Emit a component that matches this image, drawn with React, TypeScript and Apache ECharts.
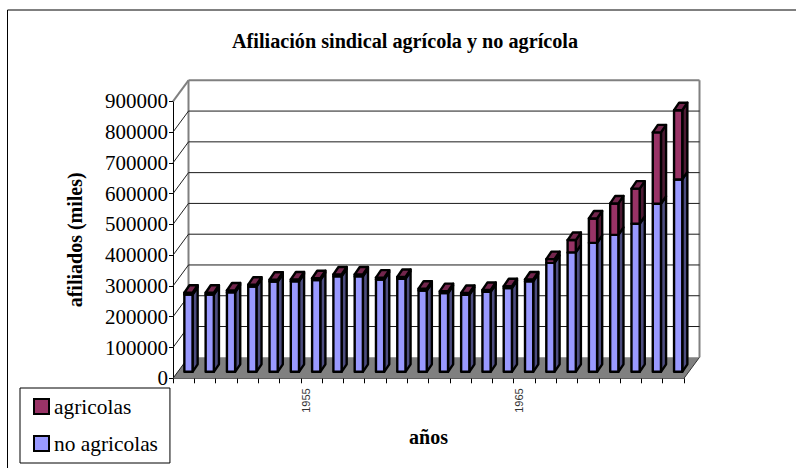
import React, { useEffect, useRef } from "react";
import * as echarts from "echarts";

const years = ["1949","1950","1951","1952","1953","1954","1955","1956","1957","1958","1959","1960","1961","1962","1963","1964","1965","1966","1967","1968","1969","1970","1971","1972"];
const noAgricolas = [251000,251000,258000,277000,293000,294000,298000,310000,310000,300000,302000,264000,256000,250000,260000,272000,294000,354000,388000,419000,445000,481000,546000,625000];
const agricolas = [6000,6000,6000,6000,6000,6000,6000,6000,6000,6000,6000,6000,6000,6000,6000,6000,6000,12000,40000,79000,102000,114000,232000,225000];
const yTicks = [0,100000,200000,300000,400000,500000,600000,700000,800000,900000];
const xTickLabels = ["1955","1965"];

const SERIF = "'Liberation Serif', serif";
const DX = 15.5;
const DY = 21;
const BAR_OFF_X = 4.8;
const BAR_OFF_Y = 6.5;
const BAR_DX = 5.1;
const BAR_DY = 7.5;
const BAR_W = 8.2;

const COLORS = {
  agricolas: { front: "#993366", side: "#4d1a33", top: "#73264d" },
  noAgricolas: { front: "#9999ff", side: "#4d4d80", top: "#73264d" },
};

const shade = (color: string, lw = 2.4) => ({ fill: color, stroke: "#000", lineWidth: lw, lineJoin: "round" });

function box(api: any, i: number, from: number, to: number, c: any, showTop: boolean) {
  const bw = BAR_W;
  const p0 = api.coord([i, from]);
  const p1 = api.coord([i, to]);
  const x0 = p0[0] + BAR_OFF_X - bw / 2;
  const x1 = x0 + bw;
  const yb = p0[1] - BAR_OFF_Y;
  const yt = p1[1] - BAR_OFF_Y;
  const children: any[] = [
    { type: "polygon", shape: { points: [[x1, yb], [x1 + BAR_DX, yb - BAR_DY], [x1 + BAR_DX, yt - BAR_DY], [x1, yt]] }, style: shade(c.side) },
    { type: "rect", shape: { x: x0, y: yt, width: bw, height: yb - yt }, style: shade(c.front) },
  ];
  if (showTop) {
    children.push({ type: "polygon", shape: { points: [[x0, yt], [x0 + BAR_DX, yt - BAR_DY], [x1 + BAR_DX, yt - BAR_DY], [x1, yt]] }, style: shade(c.top) });
  }
  return { type: "group", children };
}

const option: any = {
  animation: false,
  backgroundColor: "#fff",
  title: {
    text: "Afiliación sindical agrícola y no agrícola",
    left: 400,
    top: 26,
    textAlign: "center",
    textStyle: { fontFamily: SERIF, fontSize: 20.2, fontWeight: "bold", color: "#000" },
  },
  legend: {
    orient: "vertical",
    left: 20,
    top: 388,
    data: ["agricolas", "no agricolas"],
    icon: "rect",
    itemWidth: 15,
    itemHeight: 15,
    itemGap: 16,
    padding: [8, 12, 9, 13],
    backgroundColor: "#fff",
    borderColor: "#000",
    borderWidth: 1,
    itemStyle: { borderColor: "#000", borderWidth: 2 },
    textStyle: { fontFamily: SERIF, fontSize: 21.4, lineHeight: 20, color: "#000" },
  },
  grid: { left: 173, top: 101.3, width: 511, height: 277 },
  xAxis: {
    type: "category",
    data: years,
    boundaryGap: true,
    name: "años",
    nameLocation: "middle",
    nameGap: 49,
    nameTextStyle: { fontFamily: SERIF, fontSize: 20, fontWeight: "bold", color: "#000" },
    axisLine: { lineStyle: { color: "#555", width: 1 } },
    axisTick: { show: true, interval: 0, length: 5, lineStyle: { color: "#000" } },
    axisLabel: {
      rotate: 90,
      margin: 10,
      interval: (_: number, v: string) => xTickLabels.includes(v),
      fontFamily: "'Liberation Sans', sans-serif",
      fontSize: 11,
      color: "#333",
      verticalAlign: "bottom",
    },
    splitLine: { show: false },
  },
  yAxis: {
    type: "value",
    min: 0,
    max: 900000,
    interval: 100000,
    name: "afiliados (miles)",
    nameLocation: "middle",
    nameGap: 88,
    nameRotate: 90,
    nameTextStyle: { fontFamily: SERIF, fontSize: 20, fontWeight: "bold", color: "#000" },
    axisLine: { show: true, lineStyle: { color: "#000", width: 1 } },
    axisTick: { show: true, length: 4, lineStyle: { color: "#000" } },
    axisLabel: { margin: 5, fontFamily: SERIF, fontSize: 21, color: "#000", formatter: (v: number) => String(v) },
    splitLine: { show: false },
  },
  graphic: [
    { type: "line", shape: { x1: 7.5, y1: 10, x2: 796, y2: 10 }, style: { stroke: "#000", lineWidth: 1 } },
    { type: "line", shape: { x1: 7.5, y1: 10, x2: 7.5, y2: 468 }, style: { stroke: "#000", lineWidth: 1 } },
  ],
  series: [
    {
      type: "custom",
      silent: true,
      z: 1,
      data: yTicks.map((v) => [0, v]),
      encode: { x: 0, y: 1 },
      renderItem: (params: any, api: any) => {
        const v = api.value(1);
        const cs = params.coordSys;
        const x0 = cs.x;
        const x1 = cs.x + cs.width;
        const y = api.coord([0, v])[1];
        const isTop = v === yTicks[yTicks.length - 1];
        const children: any[] = [];
        if (v === 0) {
          children.push({
            type: "polygon",
            shape: { points: [[x0, y], [x0 + DX, y - DY], [x1 + DX, y - DY], [x1, y]] },
            style: { fill: "#808080" },
          });
        } else {
          children.push({
            type: "line",
            shape: { x1: x0 + DX, y1: y - DY, x2: x1 + DX, y2: y - DY },
            style: { stroke: isTop ? "#808080" : "#1a1a1a", lineWidth: isTop ? 2 : 1 },
          });
        }
        children.push({
          type: "line",
          shape: { x1: x0, y1: y, x2: x0 + DX, y2: y - DY },
          style: { stroke: isTop ? "#808080" : "#222", lineWidth: isTop ? 2 : 1 },
        });
        if (v === 0) {
          const top = api.coord([0, yTicks[yTicks.length - 1]])[1];
          children.push(
            { type: "line", shape: { x1: x0 + DX, y1: y - DY, x2: x0 + DX, y2: top - DY }, style: { stroke: "#808080", lineWidth: 2 } },
            { type: "line", shape: { x1: x1 + DX, y1: y - DY, x2: x1 + DX, y2: top - DY }, style: { stroke: "#808080", lineWidth: 2 } },
            { type: "line", shape: { x1: x1, y1: y, x2: x1 + DX, y2: y - DY }, style: { stroke: "#333", lineWidth: 1 } },
          );
        }
        return { type: "group", children };
      },
    },
    {
      name: "no agricolas",
      type: "custom",
      z: 2,
      itemStyle: { color: COLORS.noAgricolas.front },
      data: noAgricolas.map((v, i) => [i, v]),
      encode: { x: 0, y: 1 },
      renderItem: (_: any, api: any) => box(api, api.value(0), 0, api.value(1), COLORS.noAgricolas, false),
    },
    {
      name: "agricolas",
      type: "custom",
      z: 3,
      itemStyle: { color: COLORS.agricolas.front },
      data: agricolas.map((v, i) => [i, noAgricolas[i], noAgricolas[i] + v]),
      encode: { x: 0, y: [1, 2] },
      renderItem: (_: any, api: any) => box(api, api.value(0), api.value(1), api.value(2), COLORS.agricolas, true),
    },
  ],
};

export default function App() {
  const ref = useRef<HTMLDivElement>(null);
  useEffect(() => {
    const chart = echarts.init(ref.current!, undefined, { renderer: "svg" });
    chart.setOption(option);
    return () => chart.dispose();
  }, []);
  return <div ref={ref} style={{ position: "fixed", left: 0, top: 0, width: 796, height: 468 }} />;
}
